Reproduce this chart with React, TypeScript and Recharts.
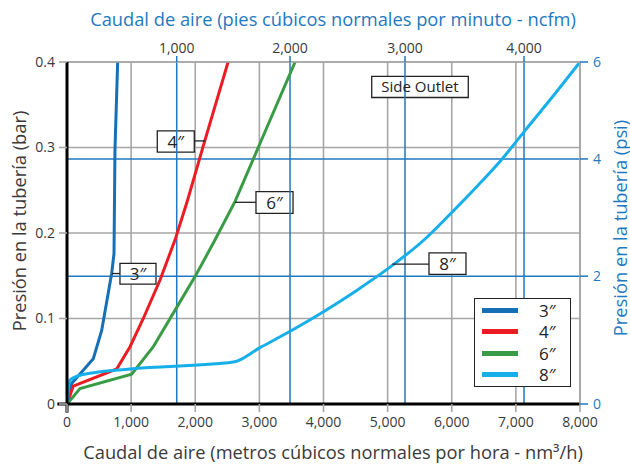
import React from 'react';
import {
  LineChart,
  Line,
  XAxis,
  YAxis,
  CartesianGrid,
  ReferenceLine,
  ReferenceArea,
  Legend,
} from 'recharts';

// ---- data (flow in nm3/h, pressure in bar) ----
const flow3 = [0, 73, 410, 541, 697, 733, 748, 790];
const bar3 = [0, 0.024, 0.053, 0.086, 0.153, 0.176, 0.297, 0.4];

const flow4 = [0, 98, 775, 983, 1190, 1451, 1685, 1867, 2122, 2512];
const bar4 = [0, 0.021, 0.041, 0.067, 0.1, 0.145, 0.192, 0.235, 0.301, 0.4];

const flow6 = [0, 203, 1009, 1346, 1711, 1997, 2309, 2621, 3011, 3557];
const bar6 = [0, 0.018, 0.035, 0.067, 0.113, 0.149, 0.192, 0.237, 0.305, 0.4];

const flow8 = [0, 47, 176, 359, 983, 2594, 3011, 3500, 4000, 4500, 5000, 5583, 5973, 6400, 6779, 7145, 7600, 8000];
const bar8 = [0, 0.028, 0.033, 0.036, 0.041, 0.049, 0.066, 0.086, 0.108, 0.132, 0.158, 0.193, 0.222, 0.255, 0.286, 0.32, 0.362, 0.4];

const seriesNames = ['3″', '4″', '6″', '8″'];

// ---- ticks ----
const bottomTicks = [0, 1000, 2000, 3000, 4000, 5000, 6000, 7000, 8000];
const leftTicks = [0, 0.1, 0.2, 0.3, 0.4];
// top axis (ncfm) tick positions expressed on the nm3/h scale, as drawn in the source
const topTickPos = [1711, 3478, 5271, 7127];
const topTickLabels = ['1,000', '2,000', '3,000', '4,000'];
// right axis (psi) tick positions expressed on the bar scale, as drawn in the source
const rightTickPos = [0, 0.1495, 0.2866, 0.4];
const rightTickLabels = ['0', '2', '4', '6'];

// ---- annotation boxes (data coords) ----
const calloutBoxes = [
  { text: '4″', x1: 1408, x2: 1985, y1: 0.2945, y2: 0.3195, lx1: 1985, lx2: 2160, ly: 0.3077 },
  { text: '6″', x1: 2947, x2: 3525, y1: 0.223, y2: 0.2483, lx1: 2620, lx2: 2947, ly: 0.2359 },
  { text: '3″', x1: 826, x2: 1388, y1: 0.1401, y2: 0.1644, lx1: 700, lx2: 826, ly: 0.1526 },
  { text: '8″', x1: 5645, x2: 6222, y1: 0.1515, y2: 0.1768, lx1: 5073, lx2: 5645, ly: 0.1635 },
];
const sideOutlet = { text: 'Side Outlet', x1: 4752, x2: 6258, y1: 0.3585, y2: 0.3831 };

const colors = ['#1570b8', '#ec1c24', '#3a9b47', '#17afe9'];
const BLUE = '#1f78c0';
const GRAY = '#a6a6a6';
const TEXT = '#3a3a3a';
const FONT = '"Open Sans", sans-serif';
const TITLE_SIZE = 18.3;

const toPoints = (xs: number[], ys: number[]) => xs.map((x, i) => ({ x, y: ys[i] }));
const seriesData = [
  toPoints(flow3, bar3),
  toPoints(flow4, bar4),
  toPoints(flow6, bar6),
  toPoints(flow8, bar8),
];
const curveTypes = ['linear', 'linear', 'linear', 'monotone'];

const LegendBox = () => (
  <div
    style={{
      width: 97,
      height: 89,
      border: '1.5px solid #222',
      background: '#fff',
      boxSizing: 'border-box',
      paddingTop: 1,
      fontFamily: FONT,
    }}
  >
    {seriesNames.map((n, i) => (
      <div key={n} style={{ display: 'flex', alignItems: 'center', height: 21.3 }}>
        <div style={{ marginLeft: 7, width: 36, height: 5, background: colors[i] }} />
        <div style={{ marginLeft: 21, fontSize: 17, color: '#222', lineHeight: '21px' }}>{n}</div>
      </div>
    ))}
  </div>
);

export default function App() {
  return (
    <div style={{ position: 'absolute', left: 0, top: 0, width: 630, height: 464, background: '#fff', fontFamily: FONT }}>
      <LineChart
        width={630}
        height={464}
        margin={{ top: 32, right: 20, bottom: 30, left: 20 }}
        style={{ fontFamily: FONT }}
      >
        <CartesianGrid xAxisId="bottom" yAxisId="left" stroke={GRAY} strokeWidth={1.6} />
        <XAxis
          xAxisId="bottom"
          dataKey="x"
          type="number"
          domain={[0, 8000]}
          ticks={bottomTicks}
          tickFormatter={(v: number) => v.toLocaleString('en-US')}
          height={30}
          tickSize={8}
          tickMargin={5}
          tick={{ fill: TEXT, fontSize: 14 }}
          tickLine={{ stroke: GRAY, strokeWidth: 1.6 }}
          axisLine={{ stroke: '#000', strokeWidth: 3 }}
          allowDataOverflow
          label={() => (
            <text x={333} y={451} textAnchor="middle" dominantBaseline="central" fill={TEXT} fontSize={TITLE_SIZE}>
              Caudal de aire (metros cúbicos normales por hora - nm³/h)
            </text>
          )}
        />
        <XAxis
          xAxisId="top"
          dataKey="x"
          orientation="top"
          type="number"
          domain={[0, 8000]}
          ticks={topTickPos}
          tickFormatter={(v: number) => topTickLabels[topTickPos.indexOf(v)]}
          height={30}
          tickSize={6}
          tickMargin={3}
          tick={{ fill: TEXT, fontSize: 14 }}
          tickLine={{ stroke: BLUE, strokeWidth: 1.5 }}
          axisLine={{ stroke: GRAY, strokeWidth: 1.6 }}
          allowDataOverflow
          label={() => (
            <text x={333} y={18} textAnchor="middle" dominantBaseline="central" fill={BLUE} fontSize={TITLE_SIZE}>
              Caudal de aire (pies cúbicos normales por minuto - ncfm)
            </text>
          )}
        />
        <YAxis
          yAxisId="left"
          type="number"
          domain={[0, 0.4]}
          ticks={leftTicks}
          tickFormatter={(v: number) => String(v)}
          width={47}
          tickSize={8}
          tickMargin={4}
          tick={{ fill: TEXT, fontSize: 14 }}
          tickLine={{ stroke: GRAY, strokeWidth: 1.6 }}
          axisLine={{ stroke: '#000', strokeWidth: 3 }}
          allowDataOverflow
          label={() => (
            <text
              x={18}
              y={221}
              textAnchor="middle"
              dominantBaseline="central"
              fill={TEXT}
              fontSize={TITLE_SIZE}
              transform="rotate(-90 18 221)"
            >
              Presión en la tubería (bar)
            </text>
          )}
        />
        <YAxis
          yAxisId="right"
          orientation="right"
          type="number"
          domain={[0, 0.4]}
          ticks={rightTickPos}
          tickFormatter={(v: number) => rightTickLabels[rightTickPos.indexOf(v)]}
          width={30}
          tickSize={8}
          tickMargin={5}
          tick={{ fill: BLUE, fontSize: 14 }}
          tickLine={{ stroke: BLUE, strokeWidth: 1.5 }}
          axisLine={{ stroke: GRAY, strokeWidth: 1.6 }}
          allowDataOverflow
          label={() => (
            <text
              x={619}
              y={228}
              textAnchor="middle"
              dominantBaseline="central"
              fill={BLUE}
              fontSize={TITLE_SIZE}
              transform="rotate(-90 619 228)"
            >
              Presión en la tubería (psi)
            </text>
          )}
        />

        {topTickPos.map((v) => (
          <ReferenceLine key={'t' + v} xAxisId="top" yAxisId="left" x={v} stroke={BLUE} strokeWidth={1.5} />
        ))}
        {rightTickPos.slice(1, 3).map((v) => (
          <ReferenceLine key={'r' + v} xAxisId="bottom" yAxisId="right" y={v} stroke={BLUE} strokeWidth={1.5} />
        ))}
        <ReferenceLine
          xAxisId="bottom"
          yAxisId="left"
          segment={[
            { x: -150, y: 0 },
            { x: 0, y: 0 },
          ]}
          ifOverflow="visible"
          stroke="#000"
          strokeWidth={3}
        />
        <ReferenceLine
          xAxisId="bottom"
          yAxisId="left"
          segment={[
            { x: 0, y: -0.01 },
            { x: 0, y: 0 },
          ]}
          ifOverflow="visible"
          stroke="#000"
          strokeWidth={3}
        />

        {seriesData.map((d, i) => (
          <Line
            key={seriesNames[i]}
            xAxisId="bottom"
            yAxisId="left"
            data={d}
            dataKey="y"
            name={seriesNames[i]}
            type={curveTypes[i] as any}
            stroke={colors[i]}
            strokeWidth={3}
            dot={false}
            activeDot={false}
            isAnimationActive={false}
          />
        ))}

        {calloutBoxes.map((b) => (
          <ReferenceLine
            key={'l' + b.text}
            xAxisId="bottom"
            yAxisId="left"
            segment={[
              { x: b.lx1, y: b.ly },
              { x: b.lx2, y: b.ly },
            ]}
            stroke="#222"
            strokeWidth={1.3}
          />
        ))}
        {calloutBoxes.map((b) => (
          <ReferenceArea
            key={'b' + b.text}
            xAxisId="bottom"
            yAxisId="left"
            x1={b.x1}
            x2={b.x2}
            y1={b.y1}
            y2={b.y2}
            fill="#fff"
            fillOpacity={1}
            stroke="#222"
            strokeWidth={1.3}
            label={{ value: b.text, position: 'center', fill: '#222', fontSize: 17 }}
          />
        ))}
        <ReferenceArea
          xAxisId="bottom"
          yAxisId="left"
          x1={sideOutlet.x1}
          x2={sideOutlet.x2}
          y1={sideOutlet.y1}
          y2={sideOutlet.y2}
          fill="#fff"
          fillOpacity={1}
          stroke="#222"
          strokeWidth={1.3}
          label={{ value: sideOutlet.text, position: 'center', fill: '#222', fontSize: 15 }}
        />

        <Legend
          layout="vertical"
          align="center"
          verticalAlign="middle"
          content={() => <LegendBox />}
          wrapperStyle={{ left: 474, top: 298, width: 97, height: 89 }}
        />
      </LineChart>
    </div>
  );
}
